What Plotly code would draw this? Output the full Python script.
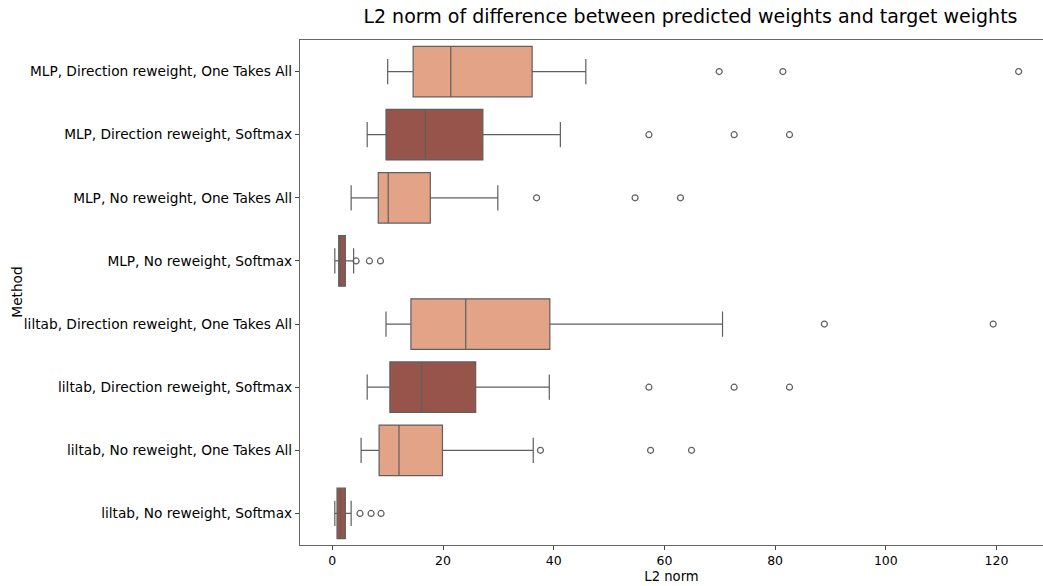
import plotly.graph_objects as go

methods = [
    "MLP, Direction reweight, One Takes All",
    "MLP, Direction reweight, Softmax",
    "MLP, No reweight, One Takes All",
    "MLP, No reweight, Softmax",
    "liltab, Direction reweight, One Takes All",
    "liltab, Direction reweight, Softmax",
    "liltab, No reweight, One Takes All",
    "liltab, No reweight, Softmax",
]
lower_whisker = [10.0, 6.3, 3.4, 0.45, 9.7, 6.3, 5.2, 0.45]
q1_vals = [14.6, 9.7, 8.3, 1.15, 14.2, 10.4, 8.45, 0.85]
median_vals = [21.4, 16.8, 10.1, 1.4, 24.1, 16.1, 12.05, 1.45]
q3_vals = [36.1, 27.2, 17.7, 2.35, 39.3, 25.9, 19.9, 2.35]
upper_whisker = [45.8, 41.2, 29.9, 3.85, 70.5, 39.2, 36.3, 3.4]
outliers = [
    [69.9, 81.4, 124.0],
    [57.2, 72.6, 82.6],
    [36.9, 54.7, 62.9],
    [4.3, 6.7, 8.7],
    [88.9, 119.4],
    [57.2, 72.6, 82.6],
    [37.6, 57.5, 64.9],
    [5.0, 7.0, 8.8],
]
palette = ["#E2A387", "#96544A"]
line_color = "#5f5f5f"

fig = go.Figure()
for i, m in enumerate(methods):
    fig.add_trace(go.Box(
        y=[m], q1=[q1_vals[i]], median=[median_vals[i]], q3=[q3_vals[i]],
        lowerfence=[lower_whisker[i]], upperfence=[upper_whisker[i]],
        orientation="h", fillcolor=palette[i % 2],
        line=dict(color=line_color, width=1.2),
        width=0.8, whiskerwidth=0.5, boxpoints=False,
        showlegend=False, hoverinfo="skip",
    ))
    fig.add_trace(go.Scatter(
        x=outliers[i], y=[m] * len(outliers[i]), mode="markers",
        marker=dict(symbol="circle-open", size=6, color=line_color,
                    line=dict(width=1.2, color=line_color)),
        showlegend=False, hoverinfo="skip",
    ))

font = "DejaVu Sans, sans-serif"
fig.update_layout(
    width=1043, height=586,
    margin=dict(l=300, r=0, t=40, b=41),
    paper_bgcolor="white", plot_bgcolor="white",
    font=dict(family=font, size=13.7, color="black"),
    title=dict(text="L2 norm of difference between predicted weights and target weights",
               x=0.662, xanchor="center", y=0.984, yanchor="top",
               font=dict(size=19, family=font, color="black")),
    annotations=[dict(text="Method", textangle=-90, xref="paper", yref="paper",
                      x=-0.382, y=0.5, xanchor="center", yanchor="middle",
                      showarrow=False, font=dict(size=13.7, family=font, color="black"))],
)
fig.update_xaxes(
    range=[-5.84, 128.4], tickvals=[0, 20, 40, 60, 80, 100, 120],
    showgrid=False, zeroline=False, showline=True, mirror=True,
    linecolor="#666", linewidth=1.2, ticks="outside", ticklen=4,
    tickcolor="#444", tickfont=dict(size=12.5),
    title=dict(text="L2 norm", standoff=4, font=dict(size=13.2)),
)
fig.update_yaxes(
    categoryorder="array", categoryarray=methods,
    range=[7.5, -0.5], autorange=False,
    showgrid=False, zeroline=False, showline=True, mirror=False,
    linecolor="#666", linewidth=1.2, ticks="outside", ticklen=4,
    tickcolor="#444",
)
fig.write_html("out.html")
